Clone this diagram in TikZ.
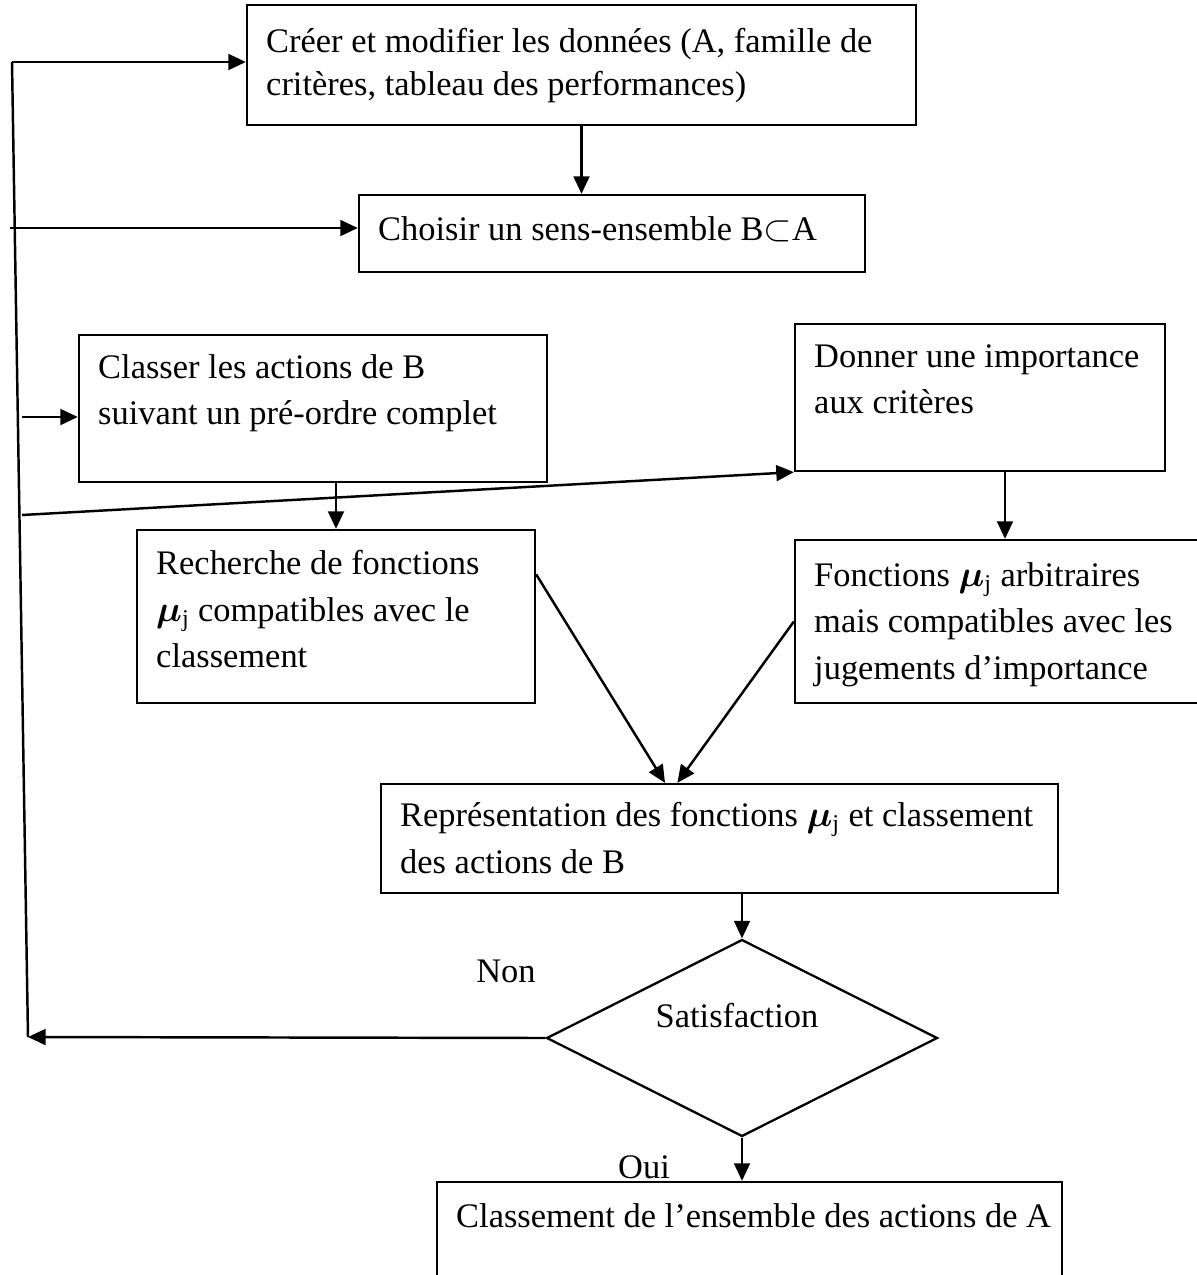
\documentclass[tikz,border=0pt]{standalone}
\usepackage{fontspec}
\setmainfont{Liberation Serif}
\usepackage{amsmath,bm}
\usetikzlibrary{arrows.meta,fit,shapes.geometric}

\tikzset{
  box/.style={draw, line width=1.3pt, inner sep=0pt},
  txt/.style={anchor=north west, align=left, inner sep=0pt,
    font=\fontsize{19.6}{26.5}\selectfont},
  lbl/.style={inner sep=0pt, font=\fontsize{19.6}{26.5}\selectfont},
  lien/.style={line width=1.4pt},
  arr/.style={line width=1.4pt, -{Triangle[length=10pt,width=9pt]}}
}
\newcommand{\muj}{$\bm{\mu}_{\mathrm{j}}$}

\begin{document}
\begin{tikzpicture}[x=0.02cm, y=-0.02cm]
			\useasboundingbox (0,0) rectangle (1197,1275);
			
			%%%%% BOITES %%%%%
			\node[box, fit={(247,5) (916,125)}] (cree) {};
			\node[txt, font=\fontsize{19.6}{24.7}\selectfont] (creeT) at ([shift={(20,24)}]cree.north west)
			{Créer et modifier les données (A, famille de\\critères, tableau des performances)};
			
			\node[box, fit={(359,195) (865,272)}] (choix) {};
			\node[txt] (choixT) at ([shift={(20,22)}]choix.north west)
			{Choisir un sens-ensemble B$\subset$A};
			
			\node[box, fit={(79,335) (547,482)}] (classer) {};
			\node[txt] (classerT) at ([shift={(20,20)}]classer.north west)
			{Classer les actions de B\\suivant un pré-ordre complet};
			
			\node[box, fit={(795,324) (1165,471)}] (donner) {};
			\node[txt] (donnerT) at ([shift={(20,21)}]donner.north west)
			{Donner une importance\\aux critères};
			
			\node[box, fit={(137,530) (535,703)}] (recherche) {};
			\node[txt] (rechercheT) at ([shift={(20,21)}]recherche.north west)
			{Recherche de fonctions\\\muj{} compatibles avec le\\classement};
			
			\node[box, fit={(795,540) (1215,703)}] (fonct) {};
			\node[txt] (fonctT) at ([shift={(20,23)}]fonct.north west)
			{Fonctions \muj{} arbitraires\\mais compatibles avec les\\jugements d’importance};
			
			\node[box, fit={(381,784) (1058,893)}] (repr) {};
			\node[txt] (reprT) at ([shift={(20,19)}]repr.north west)
			{Représentation des fonctions \muj{} et classement\\des actions de B};
			
			\node[box, shape=diamond, minimum width=7.82cm, minimum height=3.94cm] (satis) at (742,1038) {};
			\node[lbl] (satisT) at (737,1016) {Satisfaction};
			\node[lbl] (non) at (506,971) {Non};
			\node[lbl] (oui) at (644,1167) {Oui};
			
			\node[box, fit={(437,1182) (1062,1290)}] (fin) {};
			\node[txt] (finT) at ([shift={(20,22)}]fin.north west)
			{Classement de l’ensemble des actions de A};
			
			%%%%% LIENS %%%%%
			\coordinate (hautG) at (12,62);
			\coordinate (basG) at (28,1037);
			\coordinate (g2) at (10,228);
			\coordinate (g3) at (22,417);
			\coordinate (g4) at (22,515);
			
			\draw[arr] (cree.south) -- (cree.south |- choix.north);
			\draw[arr] (classer.south -| recherche.north) -- (recherche.north);
			\draw[arr] (donner.south -| fonct.north) -- (fonct.north);
			\draw[arr] ([yshift=24]recherche.east) -- ([xshift=-31]repr.north);
			\draw[arr] (fonct.west) -- ([xshift=-24]repr.north);
			\draw[arr] (repr.south -| satis.north) -- (satis.north);
			\draw[arr] (satis.south) -- (satis.south |- fin.north);
			
			\draw[arr] (satis.west) -- (basG);
			\draw[lien] (basG) -- (hautG);
			\draw[arr] (hautG) -- (hautG -| cree.west);
			\draw[arr] (g2) -- (g2 -| choix.west);
			\draw[arr] (g3) -- (g3 -| classer.west);
			\draw[arr] (g4) -- (donner.south west);
			
\end{tikzpicture}
\end{document}
